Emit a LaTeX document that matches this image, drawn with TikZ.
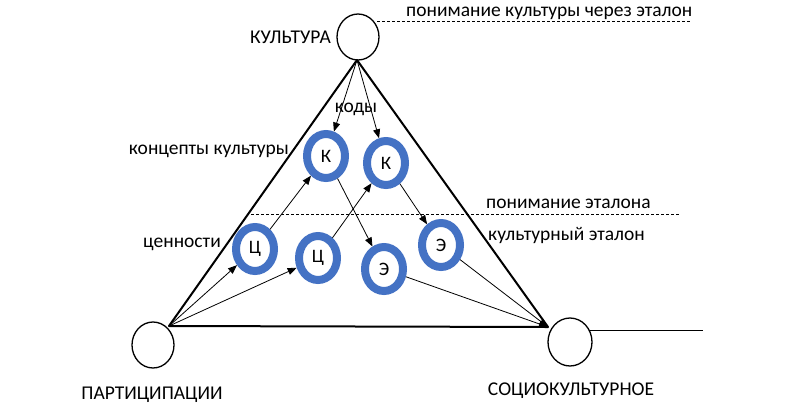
\documentclass[tikz,border=0pt]{standalone}
\usepackage{fontspec}
\setmainfont{Carlito}
\usetikzlibrary{arrows.meta,shapes.geometric}
\definecolor{ringblue}{HTML}{4472C4}
\begin{document}
\begin{tikzpicture}[x=1pt,y=-1pt,
  lbl/.style={font=\fontsize{19.5}{22}\selectfont, inner sep=0pt, text height=13pt, text depth=4pt},
  plain/.style={draw, line width=1.3pt, ellipse, minimum width=42pt, minimum height=46pt, inner sep=0pt},
  ring/.style={draw=ringblue, line width=8pt, fill=white, ellipse, minimum width=38pt, minimum height=44pt, inner sep=0pt, font=\fontsize{19}{21}\selectfont},
  tri/.style={line width=2pt, line join=round},
  arr/.style={line width=0.8pt, -{Triangle[length=9pt,width=7pt]}},
  dashline/.style={line width=0.8pt, dash pattern=on 3pt off 2pt},
  thinline/.style={line width=1pt}
]
\useasboundingbox (0,0) rectangle (789,408);

% triangle corners
\coordinate (A) at (357,60);
\coordinate (L) at (169,326);
\coordinate (R) at (548,327);

\draw[tri] (L) -- (A) -- (R) -- cycle;

% plain circles
\node[plain] (tc) at (358,37) {};
\node[plain] (lc) at (153,345) {};
\node[plain, minimum width=44pt, minimum height=48pt] (rc) at (570,342) {};

\coordinate (rEnd) at (703,331);
\draw[thinline] (rc.30) -- (rc.30 -| rEnd);

% dashed lines
\coordinate (d1s) at (377,21);
\coordinate (d1e) at (690,21);
\draw[dashline] (d1s) -- (d1e);
\coordinate (d2s) at (251,214);
\coordinate (d2e) at (680,214);
\draw[dashline] (d2s) -- (d2e);

% rings
\node[ring] (k1) at (326,156) {К};
\node[ring] (k2) at (386,163) {К};
\node[ring] (c1) at (255,249) {Ц};
\node[ring] (c2) at (318,258) {Ц};
\node[ring] (e1) at (384,269) {Э};
\node[ring] (e2) at (441,245) {Э};

% arrows
\draw[arr] (A) -- (k1);
\draw[arr] (A) -- (k2);
\draw[arr] (L) -- (c1);
\draw[arr] (L) -- (c2);
\draw[arr] (c1) -- (k1);
\draw[arr] (c2) -- (k2);
\draw[arr] (k1) -- (e1);
\draw[arr] (k2) -- (e2);
\draw[arr] (e1) -- (R);
\draw[arr] (e2) -- (R);

% labels
\node[lbl, anchor=east] (tKult) at (331,39) {КУЛЬТУРА};
\node[lbl, anchor=west] (tPon1) at (406,12) {понимание культуры через эталон};
\node[lbl] (tKody) at (356,108) {коды};
\node[lbl, anchor=east] (tKonc) at (289,150) {концепты культуры};
\node[lbl, anchor=east] (tCen) at (221,243) {ценности};
\node[lbl, anchor=west] (tPon2) at (486,204) {понимание эталона};
\node[lbl, anchor=west] (tEt) at (488,236) {культурный эталон};
\node[lbl] (tPart) at (152,395) {ПАРТИЦИПАЦИИ};
\node[lbl] (tSoc) at (571,391) {СОЦИОКУЛЬТУРНОЕ};
\end{tikzpicture}
\end{document}
